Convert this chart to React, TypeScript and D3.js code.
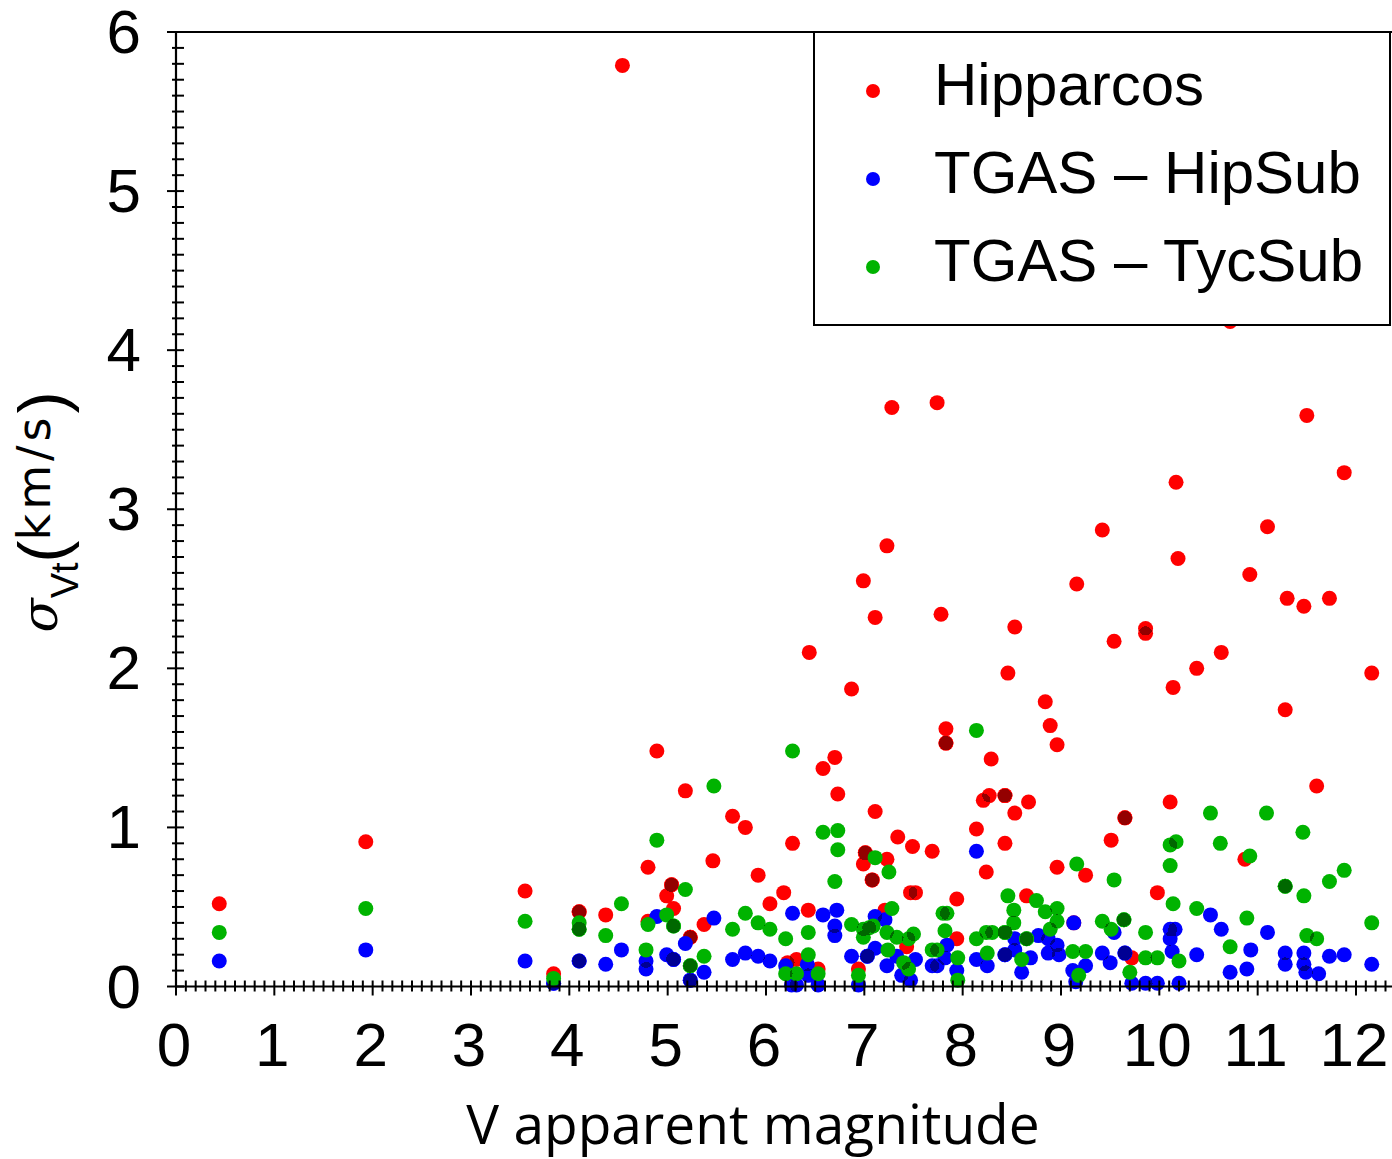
import React from "react";
import * as d3 from "d3";

// V magnitude, sigma_vt (km/s)
const hipparcos: [number, number][] = [
  [0.44, 0.52], [1.93, 0.91], [3.55, 0.6], [3.84, 0.08], [4.1, 0.47], [4.1, 0.47], [4.37, 0.45], [4.54, 5.79],
  [4.8, 0.75], [4.8, 0.41], [4.89, 1.48], [4.99, 0.57], [5.04, 0.64], [5.04, 0.64], [5.06, 0.49], [5.18, 1.23],
  [5.23, 0.31], [5.23, 0.31], [5.37, 0.39], [5.46, 0.79], [5.66, 1.07], [5.79, 1.0], [5.92, 0.7], [6.04, 0.52],
  [6.18, 0.59], [6.22, 0.15], [6.27, 0.9], [6.31, 0.17], [6.43, 0.48], [6.44, 2.1], [6.53, 0.11], [6.58, 1.37],
  [6.7, 1.44], [6.73, 1.21], [6.87, 1.87], [6.94, 0.11], [6.99, 2.55], [6.99, 0.77], [7.01, 0.84], [7.01, 0.84],
  [7.08, 0.67], [7.08, 0.67], [7.11, 2.32], [7.11, 1.1], [7.21, 0.48], [7.23, 2.77], [7.23, 0.8], [7.28, 3.64],
  [7.34, 0.94], [7.43, 0.25], [7.47, 0.59], [7.49, 0.88], [7.52, 0.59], [7.69, 0.85], [7.74, 3.67], [7.78, 2.34],
  [7.83, 1.62], [7.83, 1.53], [7.83, 1.53], [7.94, 0.55], [7.94, 0.3], [8.14, 0.99], [8.21, 1.17], [8.24, 0.72],
  [8.27, 1.2], [8.29, 1.43], [8.43, 1.2], [8.43, 1.2], [8.43, 0.9], [8.46, 1.97], [8.53, 2.26], [8.53, 1.09],
  [8.65, 0.57], [8.67, 1.16], [8.84, 1.79], [8.89, 1.64], [8.96, 1.52], [8.96, 0.75], [9.13, 0.4], [9.16, 2.53],
  [9.25, 0.7], [9.42, 2.87], [9.51, 0.92], [9.54, 2.17], [9.65, 1.06], [9.65, 1.06], [9.72, 0.18], [9.86, 2.25],
  [9.86, 2.22], [9.98, 0.59], [10.11, 1.16], [10.14, 1.88], [10.17, 3.17], [10.19, 2.69], [10.38, 2.0],
  [10.63, 2.1], [10.72, 4.18], [10.87, 0.8], [10.92, 2.59], [11.1, 2.89], [11.28, 1.74], [11.3, 2.44],
  [11.47, 2.39], [11.5, 3.59], [11.6, 1.26], [11.73, 2.44], [11.88, 3.23], [12.16, 1.97],
];

const hipSub: [number, number][] = [
  [0.44, 0.16], [1.93, 0.23], [3.55, 0.16], [3.84, 0.02], [3.84, 0.02], [4.1, 0.16], [4.1, 0.16], [4.37, 0.14],
  [4.53, 0.23], [4.78, 0.16], [4.78, 0.11], [4.89, 0.44], [4.99, 0.2], [5.06, 0.17], [5.06, 0.17], [5.18, 0.27],
  [5.23, 0.04], [5.23, 0.04], [5.37, 0.09], [5.47, 0.43], [5.66, 0.17], [5.79, 0.21], [5.92, 0.19], [6.04, 0.16],
  [6.2, 0.13], [6.26, 0.01], [6.27, 0.46], [6.31, 0.01], [6.42, 0.14], [6.43, 0.07], [6.53, 0.01], [6.58, 0.45],
  [6.72, 0.48], [6.7, 0.38], [6.7, 0.32], [6.87, 0.19], [6.94, 0.01], [7.03, 0.19], [7.03, 0.19], [7.11, 0.44],
  [7.11, 0.24], [7.21, 0.42], [7.23, 0.13], [7.33, 0.19], [7.38, 0.07], [7.47, 0.04], [7.52, 0.17], [7.69, 0.13],
  [7.74, 0.13], [7.84, 0.26], [7.82, 0.18], [7.94, 0.1], [8.14, 0.85], [8.14, 0.17], [8.25, 0.13], [8.43, 0.2],
  [8.43, 0.2], [8.53, 0.3], [8.53, 0.23], [8.6, 0.09], [8.69, 0.18], [8.77, 0.32], [8.87, 0.3], [8.87, 0.21],
  [8.96, 0.26], [8.98, 0.2], [9.13, 0.4], [9.12, 0.1], [9.15, 0.03], [9.25, 0.13], [9.42, 0.21], [9.5, 0.15],
  [9.54, 0.34], [9.65, 0.21], [9.65, 0.21], [9.72, 0.02], [9.86, 0.02], [9.98, 0.02], [10.11, 0.36],
  [10.16, 0.36], [10.11, 0.3], [10.13, 0.22], [10.2, 0.02], [10.38, 0.2], [10.52, 0.45], [10.63, 0.36],
  [10.72, 0.09], [10.89, 0.11], [10.93, 0.23], [11.1, 0.34], [11.28, 0.21], [11.28, 0.14], [11.47, 0.21],
  [11.47, 0.14], [11.49, 0.09], [11.62, 0.08], [11.73, 0.19], [11.88, 0.2], [12.16, 0.14],
];

const tycSub: [number, number][] = [
  [0.44, 0.34], [1.93, 0.49], [3.55, 0.41], [3.84, 0.05], [4.1, 0.4], [4.1, 0.36], [4.1, 0.36], [4.37, 0.32],
  [4.53, 0.52], [4.78, 0.23], [4.8, 0.39], [4.89, 0.92], [4.99, 0.45], [5.06, 0.38], [5.06, 0.38], [5.18, 0.61],
  [5.23, 0.13], [5.23, 0.13], [5.37, 0.19], [5.47, 1.26], [5.66, 0.36], [5.79, 0.46], [5.92, 0.4], [6.04, 0.36],
  [6.2, 0.3], [6.2, 0.08], [6.27, 1.48], [6.31, 0.08], [6.43, 0.34], [6.43, 0.2], [6.53, 0.08], [6.58, 0.97],
  [6.7, 0.66], [6.73, 0.98], [6.73, 0.86], [6.87, 0.39], [6.94, 0.07], [6.99, 0.31], [6.99, 0.36], [7.05, 0.37],
  [7.09, 0.38], [7.11, 0.81], [7.23, 0.34], [7.24, 0.23], [7.25, 0.72], [7.28, 0.49], [7.33, 0.31], [7.4, 0.15],
  [7.45, 0.3], [7.45, 0.11], [7.5, 0.33], [7.69, 0.23], [7.74, 0.23], [7.8, 0.46], [7.84, 0.46], [7.82, 0.35],
  [7.95, 0.18], [7.95, 0.04], [8.14, 1.61], [8.14, 0.3], [8.24, 0.34], [8.25, 0.21], [8.3, 0.34], [8.43, 0.34],
  [8.43, 0.34], [8.46, 0.57], [8.52, 0.48], [8.52, 0.4], [8.6, 0.17], [8.65, 0.3], [8.65, 0.3], [8.75, 0.54],
  [8.84, 0.47], [8.89, 0.36], [8.96, 0.49], [8.96, 0.41], [9.12, 0.22], [9.16, 0.77], [9.18, 0.07], [9.25, 0.22],
  [9.42, 0.41], [9.51, 0.36], [9.54, 0.67], [9.64, 0.42], [9.64, 0.42], [9.7, 0.09], [9.86, 0.34], [9.86, 0.18],
  [9.98, 0.18], [10.11, 0.89], [10.17, 0.91], [10.11, 0.76], [10.14, 0.52], [10.2, 0.16], [10.38, 0.49],
  [10.52, 1.09], [10.62, 0.9], [10.72, 0.25], [10.89, 0.43], [10.92, 0.82], [11.09, 1.09], [11.28, 0.63],
  [11.28, 0.63], [11.46, 0.97], [11.47, 0.57], [11.5, 0.32], [11.6, 0.3], [11.73, 0.66], [11.88, 0.73],
  [12.16, 0.4],
];

const seriesNames = ["Hipparcos", "TGAS \u2013 HipSub", "TGAS \u2013 TycSub"];
const seriesColors = ["#ff0000", "#0000ff", "#00b300"];
const xTickLabels = ["0", "1", "2", "3", "4", "5", "6", "7", "8", "9", "10", "11", "12"];
const yTickLabels = ["0", "1", "2", "3", "4", "5", "6"];
const xTitle = "V apparent magnitude";

export default function App() {
  const W = 1392;
  const H = 1159;
  const x = d3.scaleLinear().domain([0, 12]).range([176, 1356]);
  const y = d3.scaleLinear().domain([0, 6]).range([986.5, 32]);
  const series = [hipparcos, hipSub, tycSub];
  const xMinor = d3.range(0, 125).map((i) => i / 10);
  const yMinor = d3.range(0, 61).map((i) => i / 10);
  const tickFont = "'Liberation Sans', Arial, sans-serif";
  const R = 7.5;
  const x0 = x(0);
  const y0 = y(0);

  return (
    <svg
      width={W}
      height={H}
      viewBox={`0 0 ${W} ${H}`}
      style={{ position: "absolute", left: 0, top: 0, background: "#fff" }}
    >
      <defs>
        <filter id="overlap" filterUnits="userSpaceOnUse" x="0" y="0" width={W} height={H}>
          <feComponentTransfer>
            <feFuncA type="discrete" tableValues="0 0 0 0.42" />
          </feComponentTransfer>
        </filter>
      </defs>
      <rect x={0} y={0} width={W} height={H} fill="#fff" />

      {series.map((pts, si) => (
        <g key={si}>
          <g>
            {pts.map((d, i) => (
              <circle key={i} cx={x(d[0])} cy={y(d[1])} r={R} fill={seriesColors[si]} />
            ))}
          </g>
          <g filter="url(#overlap)">
            {pts.map((d, i) => (
              <circle key={i} cx={x(d[0])} cy={y(d[1])} r={R} fill="#000" fillOpacity={0.5} />
            ))}
          </g>
        </g>
      ))}

      {/* frame */}
      <line x1={x0} x2={W + 10} y1={y(6)} y2={y(6)} stroke="#000" strokeWidth={2} />
      <line x1={x0} x2={W + 10} y1={y0} y2={y0} stroke="#000" strokeWidth={2.2} />
      <line x1={x0} x2={x0} y1={y(6)} y2={y0} stroke="#000" strokeWidth={2.2} />

      {/* x ticks */}
      {xMinor.map((v, i) => {
        const major = i % 10 === 0;
        return (
          <line
            key={"xt" + i}
            x1={x(v)}
            x2={x(v)}
            y1={y0 - 6}
            y2={y0 + (major ? 9 : 5)}
            stroke="#000"
            strokeWidth={2}
          />
        );
      })}
      {/* y ticks */}
      {yMinor.map((v, i) => {
        const major = i % 10 === 0;
        return (
          <line
            key={"yt" + i}
            x1={x0 - (major ? 9 : 4)}
            x2={x0 + 8}
            y1={y(v)}
            y2={y(v)}
            stroke="#000"
            strokeWidth={2}
          />
        );
      })}

      {xTickLabels.map((t, i) => (
        <text
          key={"xl" + i}
          x={x(i) - 2}
          y={1066}
          textAnchor="middle"
          fontFamily={tickFont}
          fontSize={62}
          fill="#000"
        >
          {t}
        </text>
      ))}
      {yTickLabels.map((t, i) => (
        <text
          key={"yl" + i}
          x={141}
          y={y(i) + 21}
          textAnchor="end"
          fontFamily={tickFont}
          fontSize={62}
          fill="#000"
        >
          {t}
        </text>
      ))}

      {/* x title */}
      <text
        x={753}
        y={1144}
        textAnchor="middle"
        fontFamily="'Open Sans', Lato, sans-serif"
        fontSize={55}
        fill="#000"
      >
        {xTitle}
      </text>

      {/* y title */}
      <g transform="translate(50,512) rotate(-90)">
        <text textAnchor="middle" fontFamily={tickFont} fill="#000">
          <tspan fontStyle="italic" fontFamily="'DejaVu Serif', serif" fontSize={50} dy={7}>σ</tspan>
          <tspan fontSize={38} dy={21}>Vt</tspan>
          <tspan fontSize={66} dy={-13}>(</tspan>
          <tspan fontFamily="'DejaVu Sans', sans-serif" fontSize={46} letterSpacing={4} dy={-15}>km/s</tspan>
          <tspan fontSize={66} dy={15}>)</tspan>
        </text>
      </g>

      {/* legend */}
      <rect x={814} y={32} width={576} height={293} fill="#fff" stroke="#000" strokeWidth={2} />
      {seriesNames.map((name, i) => (
        <g key={"lg" + i}>
          <circle cx={873} cy={91 + i * 88} r={7} fill={seriesColors[i]} />
          <text x={934} y={105 + i * 88} fontFamily={tickFont} fontSize={60} fill="#000">
            {name}
          </text>
        </g>
      ))}
    </svg>
  );
}
